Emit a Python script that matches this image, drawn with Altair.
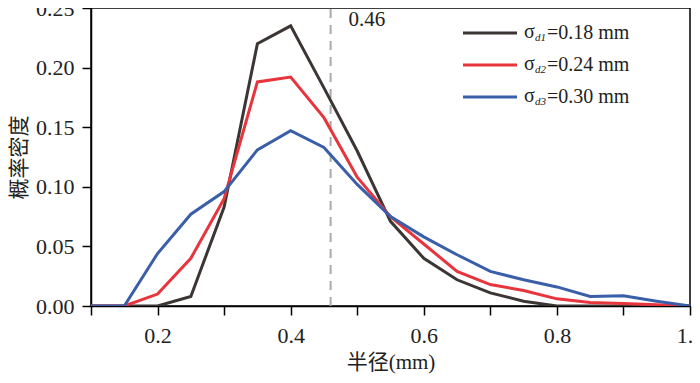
import altair as alt
import pandas as pd

radius = [0.10, 0.15, 0.20, 0.25, 0.30, 0.35, 0.40, 0.45, 0.50, 0.55,
          0.60, 0.65, 0.70, 0.75, 0.80, 0.85, 0.90, 0.95, 1.00]
dens_d1 = [0, 0, 0.000, 0.008, 0.083, 0.220, 0.235, 0.183, 0.130, 0.071,
           0.040, 0.022, 0.011, 0.004, 0.000, 0, 0, 0, 0]
dens_d2 = [0, 0, 0.010, 0.040, 0.090, 0.188, 0.192, 0.158, 0.108, 0.075,
           0.052, 0.029, 0.018, 0.013, 0.006, 0.003, 0.002, 0.001, 0]
dens_d3 = [0, 0, 0.044, 0.077, 0.096, 0.131, 0.147, 0.133, 0.102, 0.075,
           0.058, 0.043, 0.029, 0.022, 0.016, 0.008, 0.0085, 0.004, 0]

series_names = ["σd1=0.18 mm", "σd2=0.24 mm", "σd3=0.30 mm"]
sub_labels = ["d1", "d2", "d3"]
value_labels = ["=0.18 mm", "=0.24 mm", "=0.30 mm"]
colors = ["#3b3634", "#e8343c", "#3a5ea8"]
x_ticks = [round(0.1 + 0.05 * i, 2) for i in range(19)]
y_ticks = [round(0.025 * i, 3) for i in range(11)]
mark_value = 0.46

SERIF = "'Liberation Serif', 'Times New Roman', 'Noto Sans CJK SC', serif"

rows = []
for name, vals in zip(series_names, [dens_d1, dens_d2, dens_d3]):
    for r, v in zip(radius, vals):
        rows.append({"r": r, "p": v, "s": name})
df = pd.DataFrame(rows)

xs = alt.Scale(domain=[0.1, 1.0], nice=False, zero=False)
ys = alt.Scale(domain=[0, 0.25], nice=False)

lines = alt.Chart(df).mark_line(strokeWidth=3, clip=True).encode(
    x=alt.X("r:Q", scale=xs, title="半径(mm)",
            axis=alt.Axis(values=x_ticks,
                          labelExpr="abs(datum.value*5 - round(datum.value*5)) < 0.001 ? format(datum.value, '.1f') : ''")),
    y=alt.Y("p:Q", scale=ys, title="概率密度",
            axis=alt.Axis(values=y_ticks,
                          labelExpr="abs(datum.value*20 - round(datum.value*20)) < 0.001 ? format(datum.value, '.2f') : ''")),
    color=alt.Color("s:N", scale=alt.Scale(domain=series_names, range=colors), legend=None),
)

vline_df = pd.DataFrame({"x": [mark_value], "y0": [0.0], "y1": [0.25], "t": [f"{mark_value:.2f}"]})
vline = alt.Chart(vline_df).mark_rule(color="#aaaaaa", strokeWidth=2, strokeDash=[9, 7]).encode(
    x=alt.X("x:Q", scale=xs), y=alt.Y("y0:Q", scale=ys), y2="y1:Q"
)
vtext = alt.Chart(vline_df).mark_text(align="left", baseline="middle", dx=18, font=SERIF,
                                      fontSize=21, color="#222222").encode(
    x=alt.X("x:Q", scale=xs), y=alt.value(12), text="t:N"
)

legend_layers = []
for i in range(3):
    yy = 25 + 32 * i
    ldf = pd.DataFrame({"sub": [sub_labels[i]], "val": [value_labels[i]]})
    base = alt.Chart(ldf)
    legend_layers.append(base.mark_rule(color=colors[i], strokeWidth=3).encode(
        x=alt.value(372), x2=alt.value(426), y=alt.value(yy)))
    legend_layers.append(base.mark_text(align="left", baseline="middle", font=SERIF, fontSize=20,
                                        color="#222222").encode(
        x=alt.value(433), y=alt.value(yy - 1), text=alt.value("σ")))
    legend_layers.append(base.mark_text(align="left", baseline="middle", font=SERIF, fontSize=11,
                                        fontStyle="italic", color="#222222").encode(
        x=alt.value(444), y=alt.value(yy + 5), text="sub:N"))
    legend_layers.append(base.mark_text(align="left", baseline="middle", font=SERIF, fontSize=20,
                                        color="#222222").encode(
        x=alt.value(456), y=alt.value(yy), text="val:N"))

chart = alt.layer(vline, lines, vtext, *legend_layers).properties(
    width=599, height=298,
    autosize=alt.AutoSizeParams(type="none"),
    padding={"left": 83, "top": 0, "right": 2, "bottom": 69},
).configure_view(
    stroke="black", strokeWidth=1.5
).configure_axis(
    grid=False, domainColor="black", domainWidth=1.5, tickColor="black", tickWidth=1.5,
    tickSize=9, labelFont=SERIF, labelFontSize=22, labelColor="#222222",
    titleFont=SERIF, titleFontSize=21, titleFontWeight="normal", titleColor="#222222",
    labelFlush=False, labelOverlap=False
).configure_axisX(
    labelPadding=10, titlePadding=5
).configure_axisY(
    labelPadding=8, titlePadding=6
)

chart.save("out.html", embed_options={"renderer": "svg", "actions": False})
